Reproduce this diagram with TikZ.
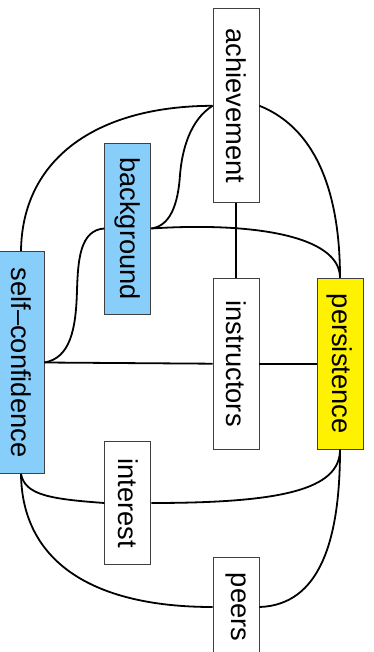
\documentclass[tikz,border=0pt]{standalone}
\usepackage{fontspec}
\setmainfont{Liberation Sans}
\definecolor{skyblue}{RGB}{135,206,250}
\tikzset{
  box/.style={draw=black!75, line width=0.9pt, rotate=-90, minimum height=46pt,
    inner sep=0pt, font=\fontsize{27.3}{30}\selectfont},
  link/.style={line width=1.8pt}
}
\begin{document}
\begin{tikzpicture}[x=1pt,y=-1pt]
  \useasboundingbox (0,0) rectangle (373,652);
  \node[box, minimum width=194pt] (achievement) at (236,105.8) {achievement};
  \node[box, fill=skyblue, minimum width=171pt] (background) at (127.8,228.5) {background};
  \node[box, fill=skyblue, minimum width=222pt] (selfconf) at (21,362.5) {self--confidence};
  \node[box, minimum width=171pt] (instructors) at (236,363.7) {instructors};
  \node[box, fill=yellow, minimum width=171pt] (persistence) at (340,363.7) {persistence};
  \node[box, minimum width=123pt] (interest) at (127.8,503) {interest};
  \node[box, minimum width=100pt] (peers) at (236,607) {peers};

  % rotated boxes: north is right, south is left, west is top, east is bottom
  \draw[link] (selfconf.west) .. controls (22,160) and (95,106) .. (achievement.south);
  \draw[link] (achievement.south) .. controls (190,120) and (182,150) .. (180,175)
    .. controls (178,205) and (170,226) .. (background.north);
  \draw[link] (background.north) .. controls (250,222) and (340,235) .. (persistence.west);
  \draw[link] (achievement.north) .. controls (320,130) and (340,200) .. (persistence.west);
  \draw[link] (achievement.east) -- (instructors.west);
  \draw[link] (background.south) .. controls (80,230) and (78,260) .. (77,290)
    .. controls (76,330) and (70,358) .. (selfconf.north);
  \draw[link] (selfconf.north) -- (instructors.south);
  \draw[link] (instructors.north) -- (persistence.south);
  \draw[link] (selfconf.east) .. controls (25,495) and (50,499) .. (interest.south);
  \draw[link] (interest.north) .. controls (280,503) and (340,490) .. (persistence.east);
  \draw[link] (selfconf.east) .. controls (22,560) and (90,607) .. (peers.south);
  \draw[link] (peers.north) .. controls (320,605) and (340,540) .. (persistence.east);
\end{tikzpicture}
\end{document}
